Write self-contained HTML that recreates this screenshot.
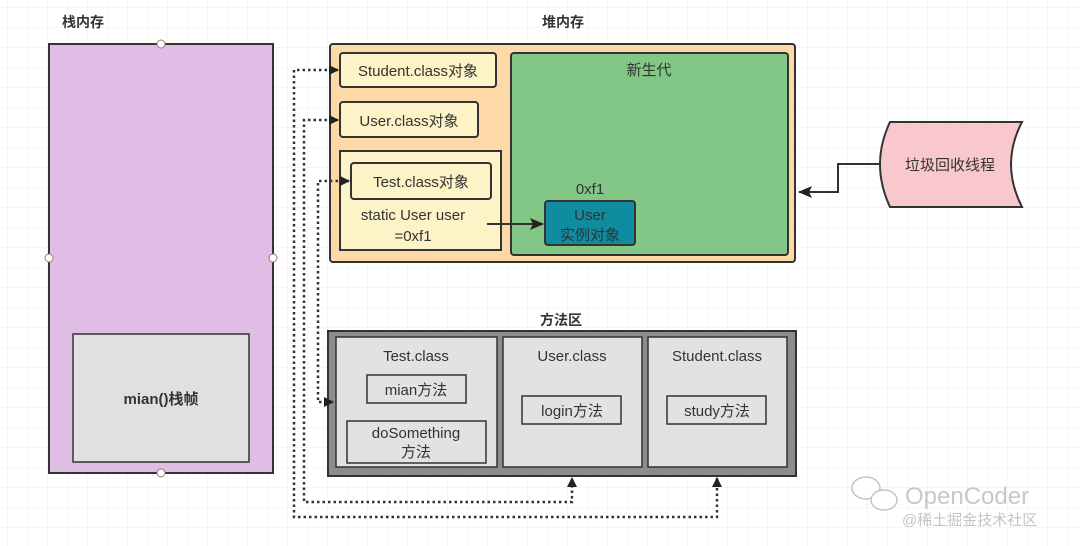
<!DOCTYPE html>
<html><head><meta charset="utf-8"><style>
html,body{margin:0;padding:0;background:#fff}
svg{display:block}
text{font-family:"Liberation Sans","Noto Sans CJK SC",sans-serif;fill:#333}
</style></head><body>
<svg width="1080" height="546" viewBox="0 0 1080 546" xmlns="http://www.w3.org/2000/svg">
<defs>
<pattern id="g" width="20" height="20" patternUnits="userSpaceOnUse" x="8" y="8">
<path d="M20 0V20H0" fill="none" stroke="#ececec" stroke-width="1"/>
</pattern>
<marker id="a" markerWidth="10" markerHeight="10" refX="9" refY="5" orient="auto-start-reverse" markerUnits="userSpaceOnUse"><path d="M0,0 L10,5 L0,10 Z" fill="#222"/></marker>
<marker id="b" markerWidth="14" markerHeight="12" refX="13" refY="6" orient="auto" markerUnits="userSpaceOnUse"><path d="M0,0 L14,6 L0,12 L3,6Z" fill="#222"/></marker>
</defs>
<rect width="1080" height="546" fill="url(#g)"/>
<text x="62" y="27" font-size="14" font-weight="bold">栈内存</text>
<rect x="49" y="44" width="224" height="429" fill="#e0bde5" stroke="#333" stroke-width="2"/>
<circle cx="161" cy="44" r="4" fill="#fff" stroke="#b07070"/>
<circle cx="161" cy="473" r="4" fill="#fff" stroke="#b07070"/>
<circle cx="49" cy="258" r="4" fill="#fff" stroke="#b07070"/>
<circle cx="273" cy="258" r="4" fill="#fff" stroke="#b07070"/>
<rect x="73" y="334" width="176" height="128" fill="#e0e0e0" stroke="#333" stroke-width="1.5"/>
<text x="161" y="404" font-size="15" font-weight="bold" text-anchor="middle">mian()栈帧</text>
<text x="563" y="27" font-size="14" font-weight="bold" text-anchor="middle">堆内存</text>
<rect x="330" y="44" width="465" height="218" rx="3" fill="#fdd9a8" stroke="#333" stroke-width="2"/>
<rect x="340" y="53" width="156" height="34" rx="3" fill="#fcf3c6" stroke="#333" stroke-width="2"/>
<text x="418" y="76" font-size="15" text-anchor="middle">Student.class对象</text>
<rect x="340" y="102" width="138" height="35" rx="3" fill="#fcf3c6" stroke="#333" stroke-width="2"/>
<text x="409" y="126" font-size="15" text-anchor="middle">User.class对象</text>
<rect x="340" y="151" width="161" height="99" fill="#fcf3c6" stroke="#333" stroke-width="2"/>
<rect x="351" y="163" width="140" height="36" rx="3" fill="#fcf3c6" stroke="#333" stroke-width="2"/>
<text x="421" y="187" font-size="15" text-anchor="middle">Test.class对象</text>
<text x="413" y="220" font-size="15" text-anchor="middle">static User user</text>
<text x="413" y="241" font-size="15" text-anchor="middle">=0xf1</text>
<rect x="511" y="53" width="277" height="202" rx="3" fill="#82c785" stroke="#333" stroke-width="2"/>
<text x="649" y="75" font-size="15" text-anchor="middle">新生代</text>
<text x="590" y="194" font-size="15" text-anchor="middle">0xf1</text>
<rect x="545" y="201" width="90" height="44" rx="3" fill="#0f8ca0" stroke="#333" stroke-width="2"/>
<text x="590" y="220" font-size="15" text-anchor="middle">User</text>
<text x="590" y="240" font-size="15" text-anchor="middle">实例对象</text>
<line x1="487" y1="224" x2="543" y2="224" stroke="#333" stroke-width="2" marker-end="url(#b)"/>
<path d="M890,122 L1022,122 Q1000,164 1022,207 L890,207 Q870,164 890,122 Z" fill="#f8c8cc" stroke="#333" stroke-width="2"/>
<text x="950" y="170" font-size="15" text-anchor="middle">垃圾回收线程</text>
<polyline points="880,164 838,164 838,192 799,192" fill="none" stroke="#333" stroke-width="2" marker-end="url(#b)"/>
<text x="561" y="325" font-size="14" font-weight="bold" text-anchor="middle">方法区</text>
<rect x="328" y="331" width="468" height="145" fill="#8c8c8c" stroke="#333" stroke-width="2"/>
<rect x="336" y="337" width="161" height="130" fill="#e2e2e2" stroke="#333" stroke-width="1.5"/>
<rect x="503" y="337" width="139" height="130" fill="#e2e2e2" stroke="#333" stroke-width="1.5"/>
<rect x="648" y="337" width="139" height="130" fill="#e2e2e2" stroke="#333" stroke-width="1.5"/>
<text x="416" y="361" font-size="15" text-anchor="middle">Test.class</text>
<rect x="367" y="375" width="99" height="28" fill="#e2e2e2" stroke="#333" stroke-width="1.5"/>
<text x="416" y="395" font-size="15" text-anchor="middle">mian方法</text>
<rect x="347" y="421" width="139" height="42" fill="#e2e2e2" stroke="#333" stroke-width="1.5"/>
<text x="416" y="438" font-size="15" text-anchor="middle">doSomething</text>
<text x="416" y="457" font-size="15" text-anchor="middle">方法</text>
<text x="572" y="361" font-size="15" text-anchor="middle">User.class</text>
<rect x="522" y="396" width="99" height="28" fill="#e2e2e2" stroke="#333" stroke-width="1.5"/>
<text x="572" y="416" font-size="15" text-anchor="middle">login方法</text>
<text x="717" y="361" font-size="15" text-anchor="middle">Student.class</text>
<rect x="667" y="396" width="99" height="28" fill="#e2e2e2" stroke="#333" stroke-width="1.5"/>
<text x="717" y="416" font-size="15" text-anchor="middle">study方法</text>
<g fill="none" stroke="#333" stroke-width="2.5" stroke-dasharray="2.5,3">
<polyline points="338,70 294,70 294,517 717,517 717,478" marker-start="url(#a)" marker-end="url(#a)"/>
<polyline points="338,120 304,120 304,502 572,502 572,478" marker-start="url(#a)" marker-end="url(#a)"/>
<polyline points="349,181 318,181 318,402 333,402" marker-start="url(#a)" marker-end="url(#a)"/>
</g>
<text x="905" y="504" font-size="24" style="fill:#c8c8c8">OpenCoder</text>
<text x="902" y="525" font-size="15" style="fill:#c4c4c4">@稀土掘金技术社区</text>
<ellipse cx="866" cy="488" rx="14" ry="11" fill="#fff" stroke="#c4c4c4" stroke-width="1.5"/>
<ellipse cx="884" cy="500" rx="13" ry="10" fill="#fff" stroke="#c4c4c4" stroke-width="1.5"/>
</svg>
</body></html>
